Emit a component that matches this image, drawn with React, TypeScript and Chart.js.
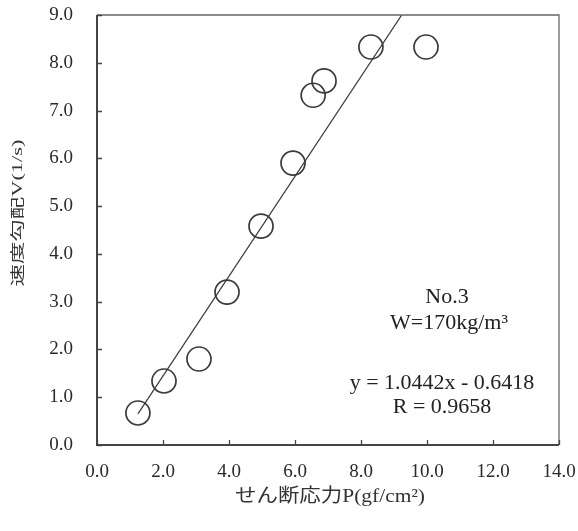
import React, { useEffect, useRef } from "react";
import { Chart, registerables } from "chart.js";

Chart.register(...registerables);

// Data
const pressure = [1.24, 2.03, 3.09, 3.94, 4.97, 5.94, 6.55, 6.88, 8.3, 9.97];
const velocity = [0.67, 1.34, 1.8, 3.2, 4.58, 5.9, 7.32, 7.62, 8.33, 8.33];
const slope = 1.0442;
const intercept = -0.6418;
const xTicks = [0, 2, 4, 6, 8, 10, 12, 14];
const yTicks = [0, 1, 2, 3, 4, 5, 6, 7, 8, 9];
const noteLines = ["No.3", "W=170kg/m³", "y = 1.0442x - 0.6418", "R = 0.9658"];
const xTitle = "せん断応力P(gf/cm²)";
const yTitle = "速度勾配V(1/s)";

const FONT = "'Liberation Serif', 'Noto Sans CJK JP', serif";
const INK = "#3a3a3a";

function stretchedText(ctx: any, text: string, cx: number, cy: number, rot: number, font: string, targetW: number) {
  ctx.save();
  ctx.font = font;
  const w = ctx.measureText(text).width;
  ctx.translate(cx, cy);
  ctx.rotate(rot);
  ctx.scale(targetW / w, 1);
  ctx.textAlign = "center";
  ctx.textBaseline = "middle";
  ctx.fillText(text, 0, 0);
  ctx.restore();
}

const framePlugin = {
  id: "frame",
  afterDraw(chart: any) {
    const { ctx, chartArea: a, scales } = chart;
    ctx.save();
    // top & right
    ctx.strokeStyle = "#666";
    ctx.lineWidth = 1.3;
    ctx.beginPath();
    ctx.moveTo(a.left, a.top);
    ctx.lineTo(a.right, a.top);
    ctx.lineTo(a.right, a.bottom);
    ctx.stroke();
    // left & bottom
    ctx.strokeStyle = "#444";
    ctx.lineWidth = 2;
    ctx.beginPath();
    ctx.moveTo(a.left, a.top);
    ctx.lineTo(a.left, a.bottom);
    ctx.lineTo(a.right, a.bottom);
    ctx.stroke();
    // inner ticks
    ctx.lineWidth = 1.3;
    ctx.beginPath();
    xTicks.forEach((t) => {
      const px = Math.round(scales.x.getPixelForValue(t)) + 0.5;
      ctx.moveTo(px, a.bottom);
      ctx.lineTo(px, a.bottom - 5);
    });
    yTicks.forEach((t) => {
      const py = Math.round(scales.y.getPixelForValue(t)) + 0.5;
      ctx.moveTo(a.left, py);
      ctx.lineTo(a.left + 5, py);
    });
    ctx.stroke();
    // annotation text
    ctx.fillStyle = "#222";
    ctx.font = "22px " + FONT;
    ctx.textAlign = "center";
    ctx.textBaseline = "middle";
    const pos = [
      [447, 297],
      [449, 323],
      [442, 383],
      [442, 407],
    ];
    noteLines.forEach((s, i) => ctx.fillText(s, pos[i][0], pos[i][1]));
    // axis titles
    ctx.fillStyle = "#333";
    stretchedText(ctx, xTitle, 330, 497, 0, "19px " + FONT, 190);
    stretchedText(ctx, yTitle, 18, 213, -Math.PI / 2, "14px " + FONT, 147);
    ctx.restore();
  },
};

export default function App() {
  const ref = useRef<HTMLCanvasElement>(null);
  useEffect(() => {
    document.body.style.margin = "0";
    const xMin = Math.min(...pressure);
    const xMax = Math.max(...pressure);
    const chart = new Chart(ref.current as HTMLCanvasElement, {
      type: "scatter",
      data: {
        datasets: [
          {
            data: pressure.map((x, i) => ({ x, y: velocity[i] })),
            pointRadius: 12,
            pointHoverRadius: 12,
            pointBorderWidth: 1.7,
            pointBorderColor: INK,
            pointBackgroundColor: "rgba(0,0,0,0)",
            showLine: false,
          },
          {
            type: "line",
            data: [
              { x: xMin, y: slope * xMin + intercept },
              { x: xMax, y: slope * xMax + intercept },
            ],
            borderColor: INK,
            borderWidth: 1.2,
            pointRadius: 0,
            fill: false,
          } as any,
        ],
      },
      options: {
        animation: false,
        responsive: false,
        devicePixelRatio: 1,
        layout: { padding: { top: 15, right: 19, left: 0, bottom: 0 } },
        plugins: { legend: { display: false }, tooltip: { enabled: false } },
        scales: {
          x: {
            type: "linear",
            min: 0,
            max: 14,
            afterFit: (s: any) => {
              s.height = 86;
              s.paddingLeft = 0;
              s.paddingRight = 0;
            },
            afterBuildTicks: (s: any) => {
              s.ticks = xTicks.map((v) => ({ value: v }));
            },
            ticks: {
              callback: (v: any) => Number(v).toFixed(1),
              font: { family: FONT, size: 19 },
              color: "#2a2a2a",
              padding: 8,
              maxRotation: 0,
            },
            grid: { display: false },
            border: { display: false },
          },
          y: {
            type: "linear",
            min: 0,
            max: 9,
            afterFit: (s: any) => {
              s.width = 97;
              s.paddingTop = 0;
              s.paddingBottom = 0;
            },
            afterBuildTicks: (s: any) => {
              s.ticks = yTicks.map((v) => ({ value: v }));
            },
            ticks: {
              callback: (v: any) => Number(v).toFixed(1),
              font: { family: FONT, size: 19 },
              color: "#2a2a2a",
              padding: 16,
            },
            grid: { display: false },
            border: { display: false },
          },
        },
      },
      plugins: [framePlugin],
    });
    return () => chart.destroy();
  }, []);
  return <canvas ref={ref} width={578} height={531} style={{ display: "block" }} />;
}
